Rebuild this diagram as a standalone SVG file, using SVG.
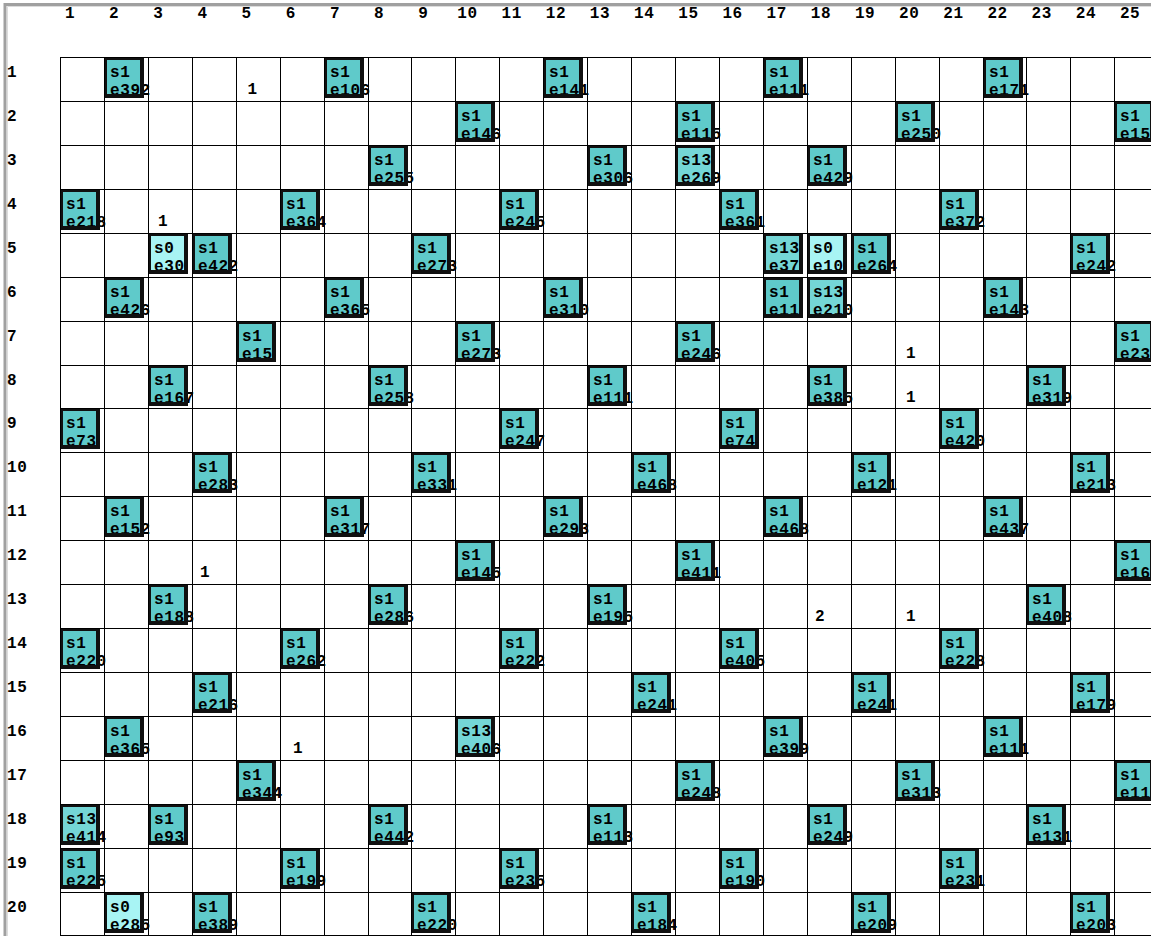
<svg xmlns="http://www.w3.org/2000/svg" xmlns:xlink="http://www.w3.org/1999/xlink" width="1151" height="936" viewBox="0 0 1151 936">
<style>
text{font-family:"Liberation Mono","DejaVu Sans Mono",monospace;font-size:16px;font-weight:bold;letter-spacing:0.6px;fill:#000}
.hd text{text-anchor:middle}
.lb text{text-anchor:middle}
.f1{fill:#5fcaca}
.f0{fill:#a8f4f4}
.f13{fill:#74d6d6}
.grid{stroke:#000;stroke-width:1;fill:none}
</style>
<defs>
<path id="fr" d="M1,1h39v40h-39zM3,3v34h33v-34z" fill="#101010" fill-rule="evenodd"/>
</defs>
<rect width="1151" height="936" fill="#fff"/>
<path d="M5,936V4.5H1151" stroke="#a0a0a0" stroke-width="3" fill="none"/>
<path d="M7.5,936V6.5H1151" stroke="#dcdcdc" stroke-width="1" fill="none"/>
<g id="col-headers" class="hd">
<text x="70" y="18">1</text><text x="114.2" y="18">2</text><text x="158.3" y="18">3</text><text x="202.5" y="18">4</text><text x="246.7" y="18">5</text><text x="290.9" y="18">6</text><text x="335" y="18">7</text><text x="379.2" y="18">8</text><text x="423.4" y="18">9</text><text x="467.5" y="18">10</text><text x="511.7" y="18">11</text><text x="555.9" y="18">12</text><text x="600" y="18">13</text><text x="644.2" y="18">14</text><text x="688.4" y="18">15</text><text x="732.6" y="18">16</text><text x="776.7" y="18">17</text><text x="820.9" y="18">18</text><text x="865.1" y="18">19</text><text x="909.2" y="18">20</text><text x="953.4" y="18">21</text><text x="997.6" y="18">22</text><text x="1041.7" y="18">23</text><text x="1085.9" y="18">24</text><text x="1130.1" y="18">25</text>
</g>
<g id="row-headers">
<text x="7" y="77">1</text><text x="7" y="121">2</text><text x="7" y="165">3</text><text x="7" y="209">4</text><text x="7" y="253">5</text><text x="7" y="297">6</text><text x="7" y="341">7</text><text x="7" y="385">8</text><text x="7" y="428">9</text><text x="7" y="472">10</text><text x="7" y="516">11</text><text x="7" y="560">12</text><text x="7" y="604">13</text><text x="7" y="648">14</text><text x="7" y="692">15</text><text x="7" y="736">16</text><text x="7" y="780">17</text><text x="7" y="824">18</text><text x="7" y="868">19</text><text x="7" y="912">20</text>
</g>
<g id="grid" class="grid">
<path d="M60.5,57V936M104.5,57V936M148.5,57V936M192.5,57V936M236.5,57V936M280.5,57V936M324.5,57V936M368.5,57V936M411.5,57V936M455.5,57V936M499.5,57V936M543.5,57V936M587.5,57V936M631.5,57V936M675.5,57V936M719.5,57V936M763.5,57V936M807.5,57V936M851.5,57V936M895.5,57V936M939.5,57V936M983.5,57V936M1026.5,57V936M1070.5,57V936M1114.5,57V936"/>
<path d="M60,57.5H1151M60,101.5H1151M60,145.5H1151M60,189.5H1151M60,233.5H1151M60,277.5H1151M60,321.5H1151M60,365.5H1151M60,408.5H1151M60,452.5H1151M60,496.5H1151M60,540.5H1151M60,584.5H1151M60,628.5H1151M60,672.5H1151M60,716.5H1151M60,760.5H1151M60,804.5H1151M60,848.5H1151M60,892.5H1151M60,935.5H1151"/>
</g>
<g id="connectors"></g>
<g id="cell-labels" class="lb">
<text x="252.5" y="94">1</text>
<text x="163" y="226">1</text>
<text x="911" y="358">1</text>
<text x="911" y="402">1</text>
<text x="205" y="577">1</text>
<text x="820" y="621">2</text>
<text x="911" y="621">1</text>
<text x="298" y="753">1</text>
</g>
<g id="nodes">
<g id="n1-2" transform="translate(104,57)"><rect class="f1" x="1" y="1" width="39" height="40"/><text x="6" y="20">s1</text><text x="6" y="38">e392</text><use href="#fr"/></g>
<g id="n1-7" transform="translate(324,57)"><rect class="f1" x="1" y="1" width="39" height="40"/><text x="6" y="20">s1</text><text x="6" y="38">e106</text><use href="#fr"/></g>
<g id="n1-12" transform="translate(543,57)"><rect class="f1" x="1" y="1" width="39" height="40"/><text x="6" y="20">s1</text><text x="6" y="38">e141</text><use href="#fr"/></g>
<g id="n1-17" transform="translate(763,57)"><rect class="f1" x="1" y="1" width="39" height="40"/><text x="6" y="20">s1</text><text x="6" y="38">e111</text><use href="#fr"/></g>
<g id="n1-22" transform="translate(983,57)"><rect class="f1" x="1" y="1" width="39" height="40"/><text x="6" y="20">s1</text><text x="6" y="38">e171</text><use href="#fr"/></g>
<g id="n2-10" transform="translate(455,101)"><rect class="f1" x="1" y="1" width="39" height="40"/><text x="6" y="20">s1</text><text x="6" y="38">e146</text><use href="#fr"/></g>
<g id="n2-15" transform="translate(675,101)"><rect class="f1" x="1" y="1" width="39" height="40"/><text x="6" y="20">s1</text><text x="6" y="38">e115</text><use href="#fr"/></g>
<g id="n2-20" transform="translate(895,101)"><rect class="f1" x="1" y="1" width="39" height="40"/><text x="6" y="20">s1</text><text x="6" y="38">e250</text><use href="#fr"/></g>
<g id="n2-25" transform="translate(1114,101)"><rect class="f1" x="1" y="1" width="39" height="40"/><text x="6" y="20">s1</text><text x="6" y="38">e15</text><use href="#fr"/></g>
<g id="n3-8" transform="translate(368,145)"><rect class="f1" x="1" y="1" width="39" height="40"/><text x="6" y="20">s1</text><text x="6" y="38">e255</text><use href="#fr"/></g>
<g id="n3-13" transform="translate(587,145)"><rect class="f1" x="1" y="1" width="39" height="40"/><text x="6" y="20">s1</text><text x="6" y="38">e306</text><use href="#fr"/></g>
<g id="n3-15" transform="translate(675,145)"><rect class="f13" x="1" y="1" width="39" height="40"/><text x="6" y="20">s13</text><text x="6" y="38">e269</text><use href="#fr"/></g>
<g id="n3-18" transform="translate(807,145)"><rect class="f1" x="1" y="1" width="39" height="40"/><text x="6" y="20">s1</text><text x="6" y="38">e429</text><use href="#fr"/></g>
<g id="n4-1" transform="translate(60,189)"><rect class="f1" x="1" y="1" width="39" height="40"/><text x="6" y="20">s1</text><text x="6" y="38">e218</text><use href="#fr"/></g>
<g id="n4-6" transform="translate(280,189)"><rect class="f1" x="1" y="1" width="39" height="40"/><text x="6" y="20">s1</text><text x="6" y="38">e364</text><use href="#fr"/></g>
<g id="n4-11" transform="translate(499,189)"><rect class="f1" x="1" y="1" width="39" height="40"/><text x="6" y="20">s1</text><text x="6" y="38">e245</text><use href="#fr"/></g>
<g id="n4-16" transform="translate(719,189)"><rect class="f1" x="1" y="1" width="39" height="40"/><text x="6" y="20">s1</text><text x="6" y="38">e361</text><use href="#fr"/></g>
<g id="n4-21" transform="translate(939,189)"><rect class="f1" x="1" y="1" width="39" height="40"/><text x="6" y="20">s1</text><text x="6" y="38">e372</text><use href="#fr"/></g>
<g id="n5-3" transform="translate(148,233)"><rect class="f0" x="1" y="1" width="39" height="40"/><text x="6" y="20">s0</text><text x="6" y="38">e30</text><use href="#fr"/></g>
<g id="n5-4" transform="translate(192,233)"><rect class="f1" x="1" y="1" width="39" height="40"/><text x="6" y="20">s1</text><text x="6" y="38">e422</text><use href="#fr"/></g>
<g id="n5-9" transform="translate(411,233)"><rect class="f1" x="1" y="1" width="39" height="40"/><text x="6" y="20">s1</text><text x="6" y="38">e273</text><use href="#fr"/></g>
<g id="n5-17" transform="translate(763,233)"><rect class="f13" x="1" y="1" width="39" height="40"/><text x="6" y="20">s13</text><text x="6" y="38">e37</text><use href="#fr"/></g>
<g id="n5-18" transform="translate(807,233)"><rect class="f0" x="1" y="1" width="39" height="40"/><text x="6" y="20">s0</text><text x="6" y="38">e10</text><use href="#fr"/></g>
<g id="n5-19" transform="translate(851,233)"><rect class="f1" x="1" y="1" width="39" height="40"/><text x="6" y="20">s1</text><text x="6" y="38">e264</text><use href="#fr"/></g>
<g id="n5-24" transform="translate(1070,233)"><rect class="f1" x="1" y="1" width="39" height="40"/><text x="6" y="20">s1</text><text x="6" y="38">e242</text><use href="#fr"/></g>
<g id="n6-2" transform="translate(104,277)"><rect class="f1" x="1" y="1" width="39" height="40"/><text x="6" y="20">s1</text><text x="6" y="38">e426</text><use href="#fr"/></g>
<g id="n6-7" transform="translate(324,277)"><rect class="f1" x="1" y="1" width="39" height="40"/><text x="6" y="20">s1</text><text x="6" y="38">e365</text><use href="#fr"/></g>
<g id="n6-12" transform="translate(543,277)"><rect class="f1" x="1" y="1" width="39" height="40"/><text x="6" y="20">s1</text><text x="6" y="38">e310</text><use href="#fr"/></g>
<g id="n6-17" transform="translate(763,277)"><rect class="f1" x="1" y="1" width="39" height="40"/><text x="6" y="20">s1</text><text x="6" y="38">e11</text><use href="#fr"/></g>
<g id="n6-18" transform="translate(807,277)"><rect class="f13" x="1" y="1" width="39" height="40"/><text x="6" y="20">s13</text><text x="6" y="38">e210</text><use href="#fr"/></g>
<g id="n6-22" transform="translate(983,277)"><rect class="f1" x="1" y="1" width="39" height="40"/><text x="6" y="20">s1</text><text x="6" y="38">e143</text><use href="#fr"/></g>
<g id="n7-5" transform="translate(236,321)"><rect class="f1" x="1" y="1" width="39" height="40"/><text x="6" y="20">s1</text><text x="6" y="38">e15</text><use href="#fr"/></g>
<g id="n7-10" transform="translate(455,321)"><rect class="f1" x="1" y="1" width="39" height="40"/><text x="6" y="20">s1</text><text x="6" y="38">e273</text><use href="#fr"/></g>
<g id="n7-15" transform="translate(675,321)"><rect class="f1" x="1" y="1" width="39" height="40"/><text x="6" y="20">s1</text><text x="6" y="38">e246</text><use href="#fr"/></g>
<g id="n7-25" transform="translate(1114,321)"><rect class="f1" x="1" y="1" width="39" height="40"/><text x="6" y="20">s1</text><text x="6" y="38">e23</text><use href="#fr"/></g>
<g id="n8-3" transform="translate(148,365)"><rect class="f1" x="1" y="1" width="39" height="40"/><text x="6" y="20">s1</text><text x="6" y="38">e167</text><use href="#fr"/></g>
<g id="n8-8" transform="translate(368,365)"><rect class="f1" x="1" y="1" width="39" height="40"/><text x="6" y="20">s1</text><text x="6" y="38">e258</text><use href="#fr"/></g>
<g id="n8-13" transform="translate(587,365)"><rect class="f1" x="1" y="1" width="39" height="40"/><text x="6" y="20">s1</text><text x="6" y="38">e111</text><use href="#fr"/></g>
<g id="n8-18" transform="translate(807,365)"><rect class="f1" x="1" y="1" width="39" height="40"/><text x="6" y="20">s1</text><text x="6" y="38">e385</text><use href="#fr"/></g>
<g id="n8-23" transform="translate(1026,365)"><rect class="f1" x="1" y="1" width="39" height="40"/><text x="6" y="20">s1</text><text x="6" y="38">e319</text><use href="#fr"/></g>
<g id="n9-1" transform="translate(60,408)"><rect class="f1" x="1" y="1" width="39" height="40"/><text x="6" y="20">s1</text><text x="6" y="38">e73</text><use href="#fr"/></g>
<g id="n9-11" transform="translate(499,408)"><rect class="f1" x="1" y="1" width="39" height="40"/><text x="6" y="20">s1</text><text x="6" y="38">e247</text><use href="#fr"/></g>
<g id="n9-16" transform="translate(719,408)"><rect class="f1" x="1" y="1" width="39" height="40"/><text x="6" y="20">s1</text><text x="6" y="38">e74</text><use href="#fr"/></g>
<g id="n9-21" transform="translate(939,408)"><rect class="f1" x="1" y="1" width="39" height="40"/><text x="6" y="20">s1</text><text x="6" y="38">e420</text><use href="#fr"/></g>
<g id="n10-4" transform="translate(192,452)"><rect class="f1" x="1" y="1" width="39" height="40"/><text x="6" y="20">s1</text><text x="6" y="38">e283</text><use href="#fr"/></g>
<g id="n10-9" transform="translate(411,452)"><rect class="f1" x="1" y="1" width="39" height="40"/><text x="6" y="20">s1</text><text x="6" y="38">e331</text><use href="#fr"/></g>
<g id="n10-14" transform="translate(631,452)"><rect class="f1" x="1" y="1" width="39" height="40"/><text x="6" y="20">s1</text><text x="6" y="38">e468</text><use href="#fr"/></g>
<g id="n10-19" transform="translate(851,452)"><rect class="f1" x="1" y="1" width="39" height="40"/><text x="6" y="20">s1</text><text x="6" y="38">e121</text><use href="#fr"/></g>
<g id="n10-24" transform="translate(1070,452)"><rect class="f1" x="1" y="1" width="39" height="40"/><text x="6" y="20">s1</text><text x="6" y="38">e213</text><use href="#fr"/></g>
<g id="n11-2" transform="translate(104,496)"><rect class="f1" x="1" y="1" width="39" height="40"/><text x="6" y="20">s1</text><text x="6" y="38">e152</text><use href="#fr"/></g>
<g id="n11-7" transform="translate(324,496)"><rect class="f1" x="1" y="1" width="39" height="40"/><text x="6" y="20">s1</text><text x="6" y="38">e317</text><use href="#fr"/></g>
<g id="n11-12" transform="translate(543,496)"><rect class="f1" x="1" y="1" width="39" height="40"/><text x="6" y="20">s1</text><text x="6" y="38">e293</text><use href="#fr"/></g>
<g id="n11-17" transform="translate(763,496)"><rect class="f1" x="1" y="1" width="39" height="40"/><text x="6" y="20">s1</text><text x="6" y="38">e468</text><use href="#fr"/></g>
<g id="n11-22" transform="translate(983,496)"><rect class="f1" x="1" y="1" width="39" height="40"/><text x="6" y="20">s1</text><text x="6" y="38">e437</text><use href="#fr"/></g>
<g id="n12-10" transform="translate(455,540)"><rect class="f1" x="1" y="1" width="39" height="40"/><text x="6" y="20">s1</text><text x="6" y="38">e145</text><use href="#fr"/></g>
<g id="n12-15" transform="translate(675,540)"><rect class="f1" x="1" y="1" width="39" height="40"/><text x="6" y="20">s1</text><text x="6" y="38">e411</text><use href="#fr"/></g>
<g id="n12-25" transform="translate(1114,540)"><rect class="f1" x="1" y="1" width="39" height="40"/><text x="6" y="20">s1</text><text x="6" y="38">e16</text><use href="#fr"/></g>
<g id="n13-3" transform="translate(148,584)"><rect class="f1" x="1" y="1" width="39" height="40"/><text x="6" y="20">s1</text><text x="6" y="38">e188</text><use href="#fr"/></g>
<g id="n13-8" transform="translate(368,584)"><rect class="f1" x="1" y="1" width="39" height="40"/><text x="6" y="20">s1</text><text x="6" y="38">e286</text><use href="#fr"/></g>
<g id="n13-13" transform="translate(587,584)"><rect class="f1" x="1" y="1" width="39" height="40"/><text x="6" y="20">s1</text><text x="6" y="38">e195</text><use href="#fr"/></g>
<g id="n13-23" transform="translate(1026,584)"><rect class="f1" x="1" y="1" width="39" height="40"/><text x="6" y="20">s1</text><text x="6" y="38">e408</text><use href="#fr"/></g>
<g id="n14-1" transform="translate(60,628)"><rect class="f1" x="1" y="1" width="39" height="40"/><text x="6" y="20">s1</text><text x="6" y="38">e220</text><use href="#fr"/></g>
<g id="n14-6" transform="translate(280,628)"><rect class="f1" x="1" y="1" width="39" height="40"/><text x="6" y="20">s1</text><text x="6" y="38">e262</text><use href="#fr"/></g>
<g id="n14-11" transform="translate(499,628)"><rect class="f1" x="1" y="1" width="39" height="40"/><text x="6" y="20">s1</text><text x="6" y="38">e222</text><use href="#fr"/></g>
<g id="n14-16" transform="translate(719,628)"><rect class="f1" x="1" y="1" width="39" height="40"/><text x="6" y="20">s1</text><text x="6" y="38">e405</text><use href="#fr"/></g>
<g id="n14-21" transform="translate(939,628)"><rect class="f1" x="1" y="1" width="39" height="40"/><text x="6" y="20">s1</text><text x="6" y="38">e228</text><use href="#fr"/></g>
<g id="n15-4" transform="translate(192,672)"><rect class="f1" x="1" y="1" width="39" height="40"/><text x="6" y="20">s1</text><text x="6" y="38">e216</text><use href="#fr"/></g>
<g id="n15-14" transform="translate(631,672)"><rect class="f1" x="1" y="1" width="39" height="40"/><text x="6" y="20">s1</text><text x="6" y="38">e241</text><use href="#fr"/></g>
<g id="n15-19" transform="translate(851,672)"><rect class="f1" x="1" y="1" width="39" height="40"/><text x="6" y="20">s1</text><text x="6" y="38">e241</text><use href="#fr"/></g>
<g id="n15-24" transform="translate(1070,672)"><rect class="f1" x="1" y="1" width="39" height="40"/><text x="6" y="20">s1</text><text x="6" y="38">e179</text><use href="#fr"/></g>
<g id="n16-2" transform="translate(104,716)"><rect class="f1" x="1" y="1" width="39" height="40"/><text x="6" y="20">s1</text><text x="6" y="38">e365</text><use href="#fr"/></g>
<g id="n16-10" transform="translate(455,716)"><rect class="f13" x="1" y="1" width="39" height="40"/><text x="6" y="20">s13</text><text x="6" y="38">e406</text><use href="#fr"/></g>
<g id="n16-17" transform="translate(763,716)"><rect class="f1" x="1" y="1" width="39" height="40"/><text x="6" y="20">s1</text><text x="6" y="38">e399</text><use href="#fr"/></g>
<g id="n16-22" transform="translate(983,716)"><rect class="f1" x="1" y="1" width="39" height="40"/><text x="6" y="20">s1</text><text x="6" y="38">e111</text><use href="#fr"/></g>
<g id="n17-5" transform="translate(236,760)"><rect class="f1" x="1" y="1" width="39" height="40"/><text x="6" y="20">s1</text><text x="6" y="38">e344</text><use href="#fr"/></g>
<g id="n17-15" transform="translate(675,760)"><rect class="f1" x="1" y="1" width="39" height="40"/><text x="6" y="20">s1</text><text x="6" y="38">e248</text><use href="#fr"/></g>
<g id="n17-20" transform="translate(895,760)"><rect class="f1" x="1" y="1" width="39" height="40"/><text x="6" y="20">s1</text><text x="6" y="38">e313</text><use href="#fr"/></g>
<g id="n17-25" transform="translate(1114,760)"><rect class="f1" x="1" y="1" width="39" height="40"/><text x="6" y="20">s1</text><text x="6" y="38">e11</text><use href="#fr"/></g>
<g id="n18-1" transform="translate(60,804)"><rect class="f13" x="1" y="1" width="39" height="40"/><text x="6" y="20">s13</text><text x="6" y="38">e414</text><use href="#fr"/></g>
<g id="n18-3" transform="translate(148,804)"><rect class="f1" x="1" y="1" width="39" height="40"/><text x="6" y="20">s1</text><text x="6" y="38">e93</text><use href="#fr"/></g>
<g id="n18-8" transform="translate(368,804)"><rect class="f1" x="1" y="1" width="39" height="40"/><text x="6" y="20">s1</text><text x="6" y="38">e442</text><use href="#fr"/></g>
<g id="n18-13" transform="translate(587,804)"><rect class="f1" x="1" y="1" width="39" height="40"/><text x="6" y="20">s1</text><text x="6" y="38">e113</text><use href="#fr"/></g>
<g id="n18-18" transform="translate(807,804)"><rect class="f1" x="1" y="1" width="39" height="40"/><text x="6" y="20">s1</text><text x="6" y="38">e249</text><use href="#fr"/></g>
<g id="n18-23" transform="translate(1026,804)"><rect class="f1" x="1" y="1" width="39" height="40"/><text x="6" y="20">s1</text><text x="6" y="38">e131</text><use href="#fr"/></g>
<g id="n19-1" transform="translate(60,848)"><rect class="f1" x="1" y="1" width="39" height="40"/><text x="6" y="20">s1</text><text x="6" y="38">e225</text><use href="#fr"/></g>
<g id="n19-6" transform="translate(280,848)"><rect class="f1" x="1" y="1" width="39" height="40"/><text x="6" y="20">s1</text><text x="6" y="38">e199</text><use href="#fr"/></g>
<g id="n19-11" transform="translate(499,848)"><rect class="f1" x="1" y="1" width="39" height="40"/><text x="6" y="20">s1</text><text x="6" y="38">e235</text><use href="#fr"/></g>
<g id="n19-16" transform="translate(719,848)"><rect class="f1" x="1" y="1" width="39" height="40"/><text x="6" y="20">s1</text><text x="6" y="38">e190</text><use href="#fr"/></g>
<g id="n19-21" transform="translate(939,848)"><rect class="f1" x="1" y="1" width="39" height="40"/><text x="6" y="20">s1</text><text x="6" y="38">e231</text><use href="#fr"/></g>
<g id="n20-2" transform="translate(104,892)"><rect class="f0" x="1" y="1" width="39" height="40"/><text x="6" y="20">s0</text><text x="6" y="38">e285</text><use href="#fr"/></g>
<g id="n20-4" transform="translate(192,892)"><rect class="f1" x="1" y="1" width="39" height="40"/><text x="6" y="20">s1</text><text x="6" y="38">e389</text><use href="#fr"/></g>
<g id="n20-9" transform="translate(411,892)"><rect class="f1" x="1" y="1" width="39" height="40"/><text x="6" y="20">s1</text><text x="6" y="38">e220</text><use href="#fr"/></g>
<g id="n20-14" transform="translate(631,892)"><rect class="f1" x="1" y="1" width="39" height="40"/><text x="6" y="20">s1</text><text x="6" y="38">e184</text><use href="#fr"/></g>
<g id="n20-19" transform="translate(851,892)"><rect class="f1" x="1" y="1" width="39" height="40"/><text x="6" y="20">s1</text><text x="6" y="38">e209</text><use href="#fr"/></g>
<g id="n20-24" transform="translate(1070,892)"><rect class="f1" x="1" y="1" width="39" height="40"/><text x="6" y="20">s1</text><text x="6" y="38">e203</text><use href="#fr"/></g>
</g>
</svg>
